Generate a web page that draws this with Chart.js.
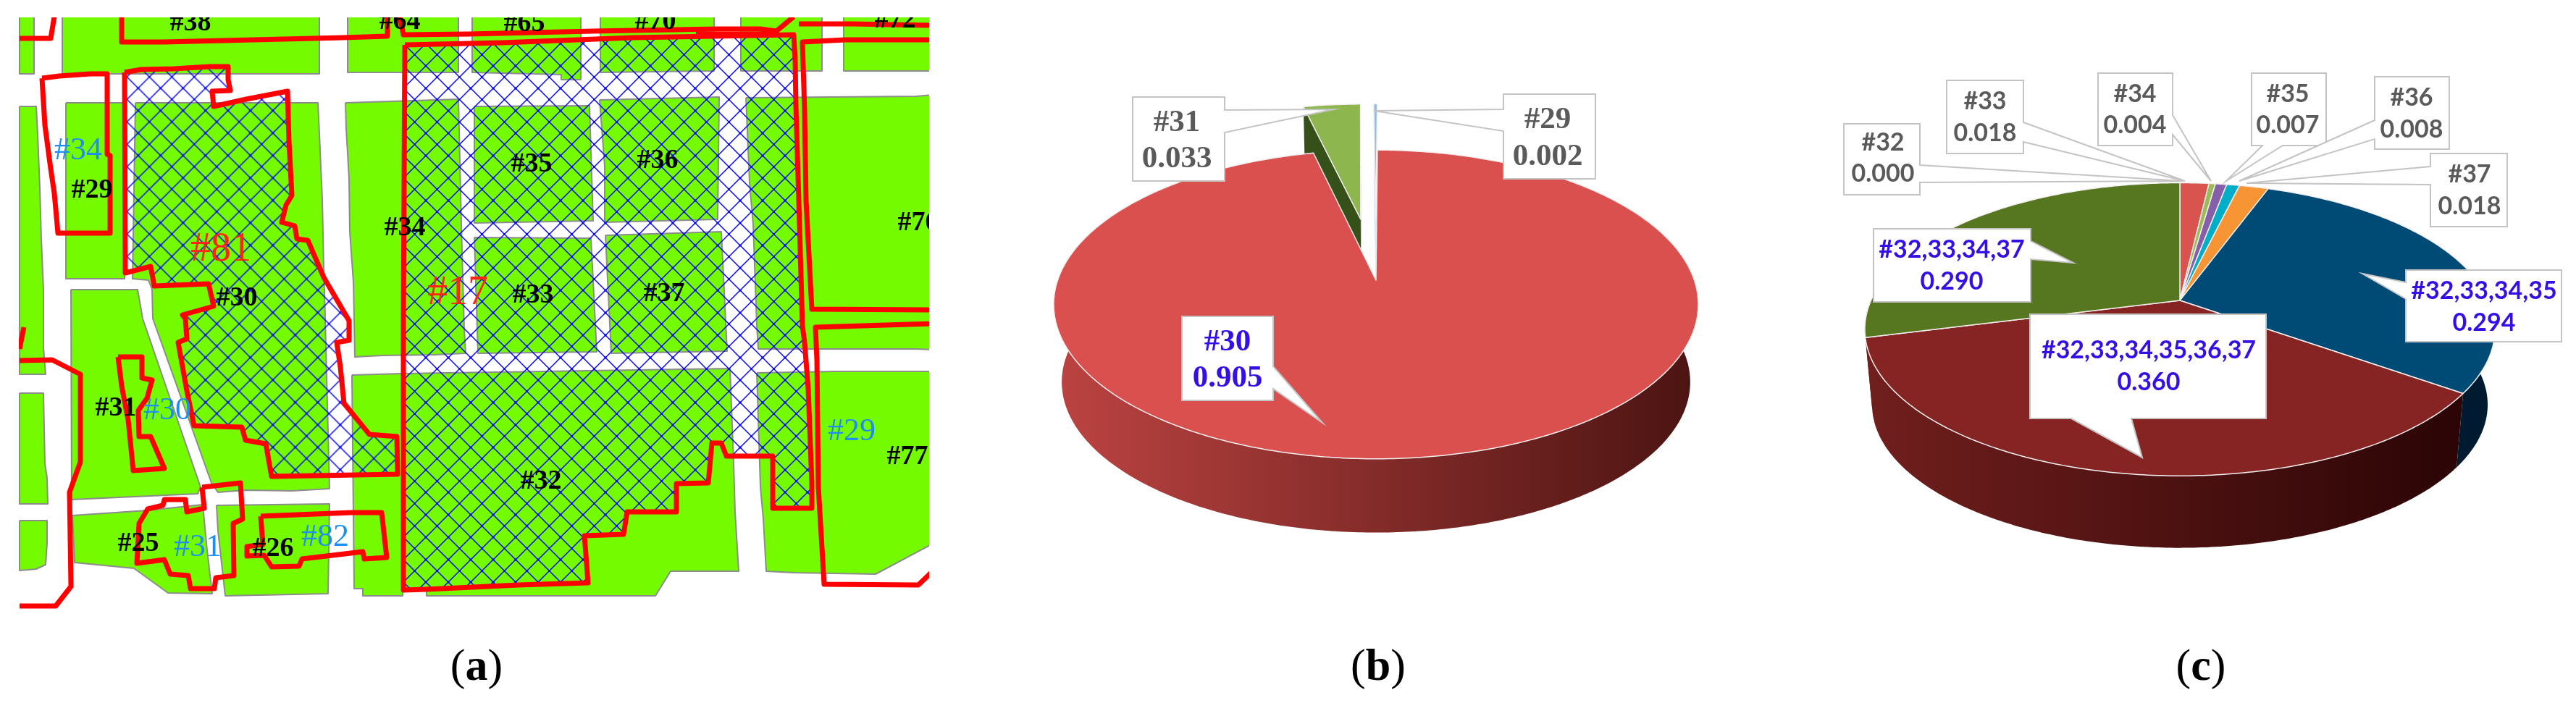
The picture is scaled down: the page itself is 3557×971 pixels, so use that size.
<!DOCTYPE html>
<html lang="en">
<head>
    <meta charset="UTF-8">
    <title>Parcel map and overlap shares</title>
    <script src="https://cdn.jsdelivr.net/npm/chart.js"></script>
    <style>
        html, body { margin: 0; background: #fff; overflow: hidden; }
        body { position: relative; width: 3557px; height: 971px; }
        canvas { position: absolute; }
        .cap { position: absolute; top: 880px; width: 120px; margin-left: -60px; text-align: center;
               font: 62px "Liberation Serif", serif; line-height: 76px; color: #000; }
    </style>
</head>
<body>
    <canvas id="mapChart" width="1257" height="830" style="left:26px;top:24px"></canvas>
    <canvas id="pieB" width="1000" height="760" style="left:1400px;top:7px"></canvas>
    <canvas id="pieC" width="1094" height="720" style="left:2463px;top:55px"></canvas>
    <div class="cap" style="left:658px">(<b>a</b>)</div>
    <div class="cap" style="left:1903px">(<b>b</b>)</div>
    <div class="cap" style="left:3039px">(<b>c</b>)</div>

    <script>
        // pie (b)
        const catsB = ['#30', '#31', '#29'];
        const valuesB = [0.905, 0.033, 0.002];
        const explodeB = [0, 0.435, 0.435];
        const colorsB = ['#d9504e', '#8db64f', '#8fbbdf'];
        const wallLeftB = ['#bb4341', '#36501a', '#d5e4f1'];
        const wallRightB = ['#4c1412', '#36501a', '#d5e4f1'];

        // pie (c)
        const catsC = ['#32', '#33', '#34', '#35', '#36', '#37', '#32,33,34,35', '#32,33,34,35,36,37', '#32,33,34,37'];
        const valuesC = [0.000, 0.018, 0.004, 0.007, 0.008, 0.018, 0.294, 0.360, 0.290];
        const explodeC = [0, 0, 0, 0, 0, 0, 0, 0, 0];
        const colorsC = ['#d9534f', '#d9534f', '#9bbb59', '#8560a8', '#00aec7', '#f79433', '#004b76', '#862424', '#56761f'];
        const wallLeftC = ['#702020', '#702020', '#56761f', '#4a3560', '#00606f', '#8a5010', '#00283f', '#701f1d', '#701f1d'];
        const wallRightC = ['#300808', '#300808', '#34470f', '#2a1e38', '#003a45', '#5a3208', '#001a30', '#280304', '#280304'];

        // perspective of each disc, page pixels
        const shapeB = { rx: 439.5, ry: 208, persp: 0.157, depth: 108, taper: 0.975 };
        const shapeC = { rx: 426.5, ry: 194.5, persp: 0.197, depth: 105, taper: 0.977 };

        // callout boxes: index, x0, y0, x1, y1, side, base a, base b, tip x, tip y, line1 y, line2 y, centre x
        const boxesB = [
            [1, 1564, 134, 1691, 250, 'r', 152, 183, 1842, 151, 170, 220, 1625],
            [2, 2076, 130, 2203, 247, 'l', 181, 151, 1897, 153, 166, 217, 2137],
            [0, 1632, 437, 1758, 553, 'r', 506, 537, 1826, 584, 473, 523, 1695]
        ];
        const boxesC = [
            [0, 2546, 171, 2651, 269, 'r', 228, 252, 3014, 250, 197, 240, 2600],
            [1, 2688, 111, 2794, 212, 'r', 169, 196, 3017, 250, 140, 184, 2741],
            [2, 2897, 101, 3000, 201, 'r', 159, 186, 3053, 250, 130, 173, 2948],
            [3, 3109, 101, 3212, 201, 'b', 3152, 3124, 3074, 250, 130, 173, 3159],
            [4, 3279, 106, 3382, 206, 'l', 192, 166, 3092, 250, 135, 179, 3330],
            [5, 3356, 212, 3462, 313, 'l', 255, 230, 3102, 253, 241, 285, 3410],
            [8, 2587, 316, 2804, 417, 'r', 333, 358, 2863, 363, 345, 389, 2695],
            [6, 3322, 373, 3537, 472, 'l', 413, 390, 3262, 378, 402, 446, 3430],
            [7, 2803, 434, 3129, 578, 'b', 2943, 2860, 2958, 632, 484, 528, 2967]
        ];

        // map (a): land blocks, hatched parcels, red outlines, page pixels
        const blocks = [
            [[27,23],[47,23],[47,102],[27,102]],
            [[86,23],[441,23],[441,102],[86,102]],
            [[480,23],[633,23],[633,100],[480,100]],
            [[652,23],[802,23],[802,110],[775,110],[775,103],[652,100]],
            [[829,23],[986,23],[986,98],[829,100]],
            [[1023,23],[1135,23],[1135,98],[1023,98]],
            [[1165,23],[1290,23],[1290,98],[1165,98]],
            [[27,147],[50,147],[52,185],[55,260],[57,330],[60,400],[60,480],[63,517],[27,517]],
            [[27,543],[60,543],[62,640],[65,660],[66,696],[27,696]],
            [[27,719],[65,719],[65,750],[63,780],[50,786],[27,788]],
            [[91,142],[170,142],[172,385],[91,385]],
            [[187,142],[439,142],[441,185],[445,275],[447,370],[449,440],[455,675],[403,678],[339,677],[301,680],[292,667],[211,440],[210,400],[205,387],[183,385]],
            [[98,400],[190,400],[197,440],[277,673],[273,682],[99,690]],
            [[100,712],[203,705],[280,697],[286,760],[293,820],[232,819],[185,785],[103,777]],
            [[299,698],[455,696],[453,820],[311,823],[301,733]],
            [[477,142],[633,137],[637,310],[641,455],[643,488],[600,490],[528,491],[490,493],[488,390],[483,320],[482,247],[478,177]],
            [[486,518],[554,516],[1008,509],[1013,640],[1015,707],[1020,789],[926,789],[905,823],[589,823],[589,815],[556,815],[556,823],[501,823],[501,813],[489,813]],
            [[655,147],[814,146],[819,305],[655,308]],
            [[828,138],[993,134],[991,303],[836,307],[835,230]],
            [[655,328],[816,329],[824,486],[660,488]],
            [[836,325],[996,320],[1004,485],[844,488]],
            [[1030,135],[1265,133],[1290,131],[1290,483],[1265,482],[1047,482],[1045,450],[1040,310],[1035,253]],
            [[1045,515],[1153,513],[1290,513],[1290,750],[1209,793],[1096,791],[1058,789],[1054,717],[1050,673]]
        ];
        const parcel81 = [[172,100],[195,96],[240,95],[290,92],[315,92],[315,110],[318,125],[293,126],[295,147],[340,137],[397,126],[399,195],[403,270],[395,283],[389,307],[407,312],[410,330],[425,332],[447,383],[482,443],[482,470],[465,473],[470,507],[475,557],[510,600],[548,603],[549,655],[375,658],[367,613],[339,608],[334,590],[268,588],[258,540],[246,473],[258,468],[256,440],[252,435],[295,423],[288,392],[213,395],[208,368],[173,377]];
        const parcel17 = [[559,62],[694,59],[873,52],[1096,48],[1098,83],[1099,147],[1103,277],[1108,450],[1111,473],[1116,537],[1121,667],[1121,702],[1067,702],[1067,630],[1003,630],[996,612],[983,612],[978,667],[934,668],[934,707],[866,707],[861,738],[807,740],[812,805],[716,808],[589,814],[557,815],[557,607],[557,440]];
        const redLines = [
            [[27,53],[70,53],[75,23]],
            [[168,23],[168,58],[227,58],[350,55],[473,52],[535,50],[535,23]],
            [[552,23],[557,48],[648,47],[819,43],[991,40],[1050,40],[1072,43],[1096,23]],
            [[961,47],[1069,47]],
            [[58,108],[82,105],[125,102],[148,102],[148,213],[152,215],[152,322],[80,322],[75,267],[70,233],[62,173],[58,108]],
            [[33,452],[27,482]],
            [[27,498],[72,497],[111,517],[111,638],[96,680],[98,810],[77,837],[27,837]],
            [[163,493],[196,493],[196,522],[210,525],[203,550],[191,567],[192,603],[208,603],[227,647],[184,650],[177,580],[168,533],[163,493]],
            [[279,673],[332,667],[335,717],[322,723],[323,795],[298,798],[296,813],[263,813],[260,795],[235,793],[227,773],[189,778],[192,723],[204,703],[225,698],[227,690],[256,690],[258,707],[282,702],[279,673]],
            [[360,713],[485,708],[527,708],[534,770],[503,772],[501,762],[417,772],[413,782],[375,783],[365,767],[341,768],[341,755],[363,752],[360,713]],
            [[1103,33],[1177,33],[1290,35]],
            [[1290,55],[1167,55],[1108,58],[1111,153],[1113,277],[1121,427],[1290,428]],
            [[1290,447],[1255,448],[1126,452],[1128,497],[1130,673],[1138,807],[1268,808],[1290,787]]
        ];
        const labelsBlack = [['#38',263,32],['#64',552,30],['#65',724,33],['#70',905,30],['#72',1236,28],['#29',127,263],['#30',327,412],['#34',559,315],['#35',734,227],['#36',908,222],['#76',1268,308],['#33',736,408],['#37',917,406],['#31',160,564],['#25',191,751],['#26',377,758],['#77',1253,631],['#32',747,665]];
        const labelsBlue = [['#34',108,208],['#30',231,567],['#31',273,756],['#82',449,742],['#29',1176,596]];
        const labelsRed = [['#81',305,345],['#17',632,405]];

        // diagonal cross hatch, ox/oy put one crossing on the canvas
        function hatch(ox, oy) {
            const size = 31;
            const tile = document.createElement('canvas');
            tile.width = tile.height = size;
            const t = tile.getContext('2d');
            t.strokeStyle = '#0a0af5';
            t.lineWidth = 1.5;
            t.beginPath();
            t.moveTo(-1, -1); t.lineTo(size + 1, size + 1);
            t.moveTo(size + 1, -1); t.lineTo(-1, size + 1);
            t.stroke();
            t.fillStyle = '#0a0af5';
            [[0, 0], [size, 0], [0, size], [size, size], [size / 2, size / 2]].forEach(p => t.fillRect(p[0] - 1.5, p[1] - 1.5, 3, 3));
            const pattern = t.createPattern(tile, 'repeat');
            pattern.setTransform(new DOMMatrix().translate(ox, oy));
            return pattern;
        }

        const shapeData = pts => pts.map(p => ({ x: p[0], y: p[1] }));
        const closed = pts => pts.concat([pts[0]]);
        const base = { showLine: true, pointRadius: 0, tension: 0, borderJoinStyle: 'round' };

        // first dataset is drawn last, so the red goes first
        const mapSets = [];
        redLines.forEach(l => mapSets.push({ ...base, data: shapeData(l), borderColor: '#ff0000', borderWidth: 7, fill: false }));
        mapSets.push({ ...base, data: shapeData(closed(parcel17)), borderColor: '#ff0000', borderWidth: 7, fill: 'shape', backgroundColor: hatch(562, 98) });
        mapSets.push({ ...base, data: shapeData(closed(parcel81)), borderColor: '#ff0000', borderWidth: 7, fill: 'shape', backgroundColor: hatch(164.7, 128.7) });
        blocks.forEach(b => mapSets.push({ ...base, data: shapeData(closed(b)), borderColor: '#8c8c8c', borderWidth: 2, fill: 'shape', backgroundColor: '#75fb00' }));

        const mapLabels = {
            id: 'mapLabels',
            afterDatasetsDraw(chart) {
                const { ctx, chartArea: a, scales } = chart;
                ctx.save();
                ctx.beginPath();
                ctx.rect(a.left, a.top, a.width, a.height);
                ctx.clip();
                ctx.textAlign = 'center';
                ctx.textBaseline = 'middle';
                const put = (list, font, color) => {
                    ctx.font = font;
                    ctx.fillStyle = color;
                    list.forEach(l => ctx.fillText(l[0], scales.x.getPixelForValue(l[1]), scales.y.getPixelForValue(l[2])));
                };
                put(labelsBlack, 'bold 38px "Liberation Serif"', '#000');
                put(labelsBlue, '44px "Liberation Serif"', '#1e8ff0');
                put(labelsRed, '56px "Liberation Serif"', '#ff2318');
                ctx.restore();
            }
        };

        new Chart(document.getElementById('mapChart'), {
            type: 'scatter',
            data: { datasets: mapSets },
            options: {
                responsive: false,
                animation: false,
                events: [],
                layout: { padding: 0 },
                plugins: { legend: { display: false }, tooltip: { enabled: false } },
                scales: {
                    x: { type: 'linear', min: 26, max: 1283, display: false },
                    y: { type: 'linear', min: 24, max: 854, reverse: true, display: false }
                }
            },
            plugins: [mapLabels]
        });

        // draws the library's arcs as a tilted disc with a side wall
        const pie3d = {
            id: 'pie3d',
            beforeDatasetDraw(chart, args, opts) {
                const { ctx } = chart;
                const ds = chart.data.datasets[args.index];
                const arcs = chart.getDatasetMeta(args.index).data;
                const s = opts.shape;

                const point = (arc, ex, ang, r, low) => {
                    const mid = (arc.startAngle + arc.endAngle) / 2;
                    const u = ex * Math.cos(mid) + r * Math.cos(ang);
                    const v = ex * Math.sin(mid) + r * Math.sin(ang);
                    const w = 1 - s.persp * v;
                    const k = low ? s.taper : 1;
                    return [arc.x + k * s.rx * u / w, arc.y + (low ? s.depth : 0) + k * s.ry * v / w];
                };
                const rim = arc => {
                    const n = Math.max(2, Math.ceil((arc.endAngle - arc.startAngle) / 0.012));
                    const out = [];
                    for (let i = 0; i <= n; i++) out.push(arc.startAngle + (arc.endAngle - arc.startAngle) * i / n);
                    return out;
                };
                const poly = pts => {
                    ctx.beginPath();
                    pts.forEach((p, i) => i ? ctx.lineTo(p[0], p[1]) : ctx.moveTo(p[0], p[1]));
                    ctx.closePath();
                };
                const walls = i => {
                    const arc = arcs[i];
                    const ex = ds.explode[i];
                    const cx = arc.x;
                    const grad = ctx.createLinearGradient(cx - s.rx, 0, cx + s.rx, 0);
                    grad.addColorStop(0, ds.wallLeft[i]);
                    grad.addColorStop(1, ds.wallRight[i]);
                    ctx.fillStyle = grad;
                    if (ex > 0) {
                        [arc.startAngle, arc.endAngle].forEach(a => {
                            poly([point(arc, ex, a, 0, false), point(arc, ex, a, 1, false), point(arc, ex, a, 1, true), point(arc, ex, a, 0, true)]);
                            ctx.fill();
                        });
                    }
                    const angs = rim(arc).filter(a => Math.sin(a) > -0.25);
                    if (angs.length > 1) {
                        poly(angs.map(a => point(arc, ex, a, 1, false)).concat(angs.slice().reverse().map(a => point(arc, ex, a, 1, true))));
                        ctx.fill();
                    }
                };
                const top = i => {
                    const arc = arcs[i];
                    const ex = ds.explode[i];
                    poly([point(arc, ex, arc.startAngle, 0, false)].concat(rim(arc).map(a => point(arc, ex, a, 1, false))));
                    ctx.fillStyle = arc.options.backgroundColor;
                    ctx.fill();
                    ctx.strokeStyle = arc.options.borderColor;
                    ctx.lineWidth = arc.options.borderWidth;
                    ctx.lineJoin = 'round';
                    ctx.stroke();
                };

                const idx = arcs.map((a, i) => i);
                const pulled = idx.filter(i => ds.explode[i] > 0);
                const flat = idx.filter(i => !(ds.explode[i] > 0));
                ctx.save();
                [pulled, flat].forEach(group => {
                    group.forEach(walls);
                    group.forEach(top);
                });
                ctx.restore();
                return false;
            },
            afterDatasetsDraw(chart, args, opts) {
                const { ctx } = chart;
                const ds = chart.data.datasets[0];
                const rect = chart.canvas.getBoundingClientRect();
                ctx.save();
                ctx.translate(-rect.left, -rect.top);
                ctx.textAlign = 'center';
                ctx.textBaseline = 'middle';
                opts.boxes.forEach(b => {
                    const [i, x0, y0, x1, y1, side, a, c, tx, ty, l1, l2, mx] = b;
                    const pts = [[x0, y0], [x1, y0]];
                    if (side === 'r') pts.push([x1, a], [tx, ty], [x1, c]);
                    pts.push([x1, y1]);
                    if (side === 'b') pts.push([a, y1], [tx, ty], [c, y1]);
                    pts.push([x0, y1]);
                    if (side === 'l') pts.push([x0, a], [tx, ty], [x0, c]);
                    ctx.beginPath();
                    pts.forEach((p, k) => k ? ctx.lineTo(p[0], p[1]) : ctx.moveTo(p[0], p[1]));
                    ctx.closePath();
                    ctx.fillStyle = '#fff';
                    ctx.fill();
                    ctx.strokeStyle = '#c4c4c4';
                    ctx.lineWidth = 2;
                    ctx.stroke();
                    const big = ds.data[i] > 0.2;
                    ctx.font = opts.font;
                    ctx.fillStyle = big ? '#3410e6' : '#5a5a5a';
                    ctx.fillText(chart.data.labels[i], mx, l1);
                    ctx.fillText(ds.data[i].toFixed(3), mx, l2);
                });
                ctx.restore();
            }
        };

        function makePie(id, cats, values, colors, explode, left, right, rotation, shape, boxes, font) {
            return new Chart(document.getElementById(id), {
                type: 'pie',
                data: {
                    labels: cats,
                    datasets: [{
                        data: values,
                        backgroundColor: colors,
                        borderColor: '#f4eeee',
                        borderWidth: 1.5,
                        explode: explode,
                        wallLeft: left,
                        wallRight: right
                    }]
                },
                options: {
                    responsive: false,
                    animation: false,
                    events: [],
                    rotation: rotation,
                    layout: { padding: 0 },
                    plugins: {
                        legend: { display: false },
                        tooltip: { enabled: false },
                        pie3d: { shape: shape, boxes: boxes, font: font }
                    }
                },
                plugins: [pie3d]
            });
        }

        makePie('pieB', catsB, valuesB, colorsB, explodeB, wallLeftB, wallRightB, 0.3, shapeB, boxesB, 'bold 43px "Liberation Serif"');
        makePie('pieC', catsC, valuesC, colorsC, explodeC, wallLeftC, wallRightC, 0, shapeC, boxesC, 'bold 34px Lato');
    </script>
</body>
</html>
